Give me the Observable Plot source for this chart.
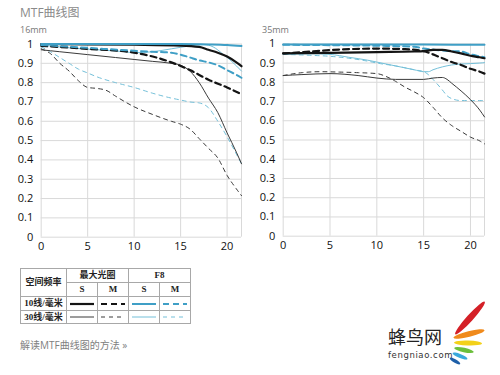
<!DOCTYPE html>
<html><head><meta charset="utf-8">
<script src="https://cdn.jsdelivr.net/npm/d3@7"></script>
<script src="https://cdn.jsdelivr.net/npm/@observablehq/plot@0.6"></script>
<style>
body{margin:0;background:#fff;}
#root{position:relative;width:500px;height:375px;overflow:hidden;font-family:"Open Sans","Noto Sans CJK SC",sans-serif;}
.abs{position:absolute;}
#title{left:20px;top:6px;font-size:12px;line-height:14px;color:#8a8a8a;font-family:"Open Sans","Noto Sans CJK SC",sans-serif;}
.lens{top:25px;font-size:9px;line-height:10px;color:#777;}
#legend{left:20px;top:268px;border-collapse:collapse;font-family:"Liberation Serif","Noto Sans CJK SC",serif;font-weight:bold;font-size:9px;color:#222;}
#legend td{border:1px solid #a8a8a8;text-align:center;padding:0;line-height:11px;}
#link{left:20px;top:339px;font-size:10px;line-height:12px;color:#808080;}
</style></head>
<body><div id="root">
<div id="title" class="abs">MTF曲线图</div>
<div class="abs lens" style="left:20px">16mm</div>
<div class="abs lens" style="left:262px">35mm</div>
<div id="c16" class="abs" style="left:0;top:38px"></div>
<div id="c35" class="abs" style="left:250px;top:38px"></div>
<table id="legend" class="abs"></table>
<div id="link" class="abs">解读MTF曲线图的方法 »</div>
<svg class="abs" style="left:380px;top:290px" width="120" height="85">
  <text x="8" y="54" font-size="18" font-family="Noto Sans CJK SC" fill="#222">蜂鸟网</text>
  <text x="8" y="68" font-size="8.5" font-family="DejaVu Sans" fill="#333" letter-spacing="0.6">fengniao.com</text>
  <ellipse cx="90" cy="28" rx="22" ry="3.2" fill="#d42027" transform="rotate(-48 90 28)"/>
  <ellipse cx="89" cy="44" rx="16" ry="2.8" fill="#f08a1c" transform="rotate(-14 89 44)"/>
  <ellipse cx="88" cy="53" rx="14" ry="2.5" fill="#f3d11a" transform="rotate(2 88 53)"/>
  <ellipse cx="84" cy="60" rx="10" ry="2.2" fill="#6cbf3c" transform="rotate(12 84 60)"/>
  <ellipse cx="80" cy="66" rx="8" ry="2" fill="#39a9dc" transform="rotate(22 80 66)"/>
  <ellipse cx="75" cy="71" rx="6" ry="1.8" fill="#1e5fa8" transform="rotate(30 75 71)"/>
</svg>
</div>
<script>
// ---------- data (position on the frame in mm, MTF value) ----------
const xTicks = [0, 5, 10, 15, 20];
const yTicks = [0, 0.1, 0.2, 0.3, 0.4, 0.5, 0.6, 0.7, 0.8, 0.9, 1];

// 16mm
const l16_max10S = [[0,1.0],[5,0.998],[10,0.996],[15,0.992],[17,0.985],[18,0.97],[19,0.955],[20,0.935],[21,0.905],[21.55,0.885]];
const l16_max10M = [[0,0.99],[5,0.975],[10,0.955],[12,0.935],[14,0.905],[16,0.865],[18,0.815],[20,0.775],[21.55,0.74]];
const l16_max30S = [[0,0.97],[2,0.96],[5,0.945],[8,0.93],[10,0.92],[12,0.91],[14,0.9],[15,0.89],[16,0.86],[17,0.8],[18,0.72],[19,0.645],[20,0.54],[21,0.44],[21.55,0.38]];
const l16_max30M = [[0,0.975],[1,0.95],[2,0.9],[3,0.86],[4,0.81],[5,0.775],[6,0.77],[7,0.76],[8,0.73],[10,0.675],[12,0.635],[14,0.6],[15,0.585],[16,0.56],[17,0.51],[18,0.46],[19,0.41],[20,0.32],[21,0.25],[21.55,0.215]];
const l16_f810S = [[0,1.0],[10,1.0],[15,1.0],[18,0.998],[20,0.995],[21.55,0.99]];
const l16_f810M = [[0,0.995],[5,0.98],[10,0.965],[12,0.96],[14,0.955],[15,0.945],[16,0.93],[17,0.915],[18,0.905],[19,0.89],[20,0.865],[21,0.84],[21.55,0.825]];
const l16_f830S = [[0,0.995],[3,0.98],[6,0.97],[9,0.96],[10,0.955],[12,0.96],[14,0.975],[16,0.99],[17.5,0.997],[18.5,0.985],[19.5,0.95],[20.5,0.91],[21.55,0.86]];
const l16_f830M = [[0,0.985],[1,0.96],[2,0.93],[3,0.9],[4,0.87],[5,0.85],[6,0.83],[8,0.8],[10,0.775],[12,0.745],[14,0.72],[15,0.71],[16,0.7],[17,0.695],[18,0.67],[19,0.6],[20,0.52],[21,0.43],[21.55,0.38]];

// 35mm
const l35_max10S = [[0,0.95],[5,0.953],[10,0.957],[14,0.96],[15,0.962],[16,0.968],[17,0.968],[18,0.96],[19,0.95],[20,0.938],[21,0.93],[21.5,0.925]];
const l35_max10M = [[0,0.95],[3,0.96],[6,0.97],[10,0.975],[13,0.972],[15,0.962],[16,0.945],[17,0.925],[18,0.905],[19,0.89],[20,0.87],[21,0.855],[21.5,0.845]];
const l35_max30S = [[0,0.835],[2,0.84],[5,0.845],[8,0.835],[10,0.822],[12,0.815],[15,0.815],[16,0.822],[17,0.825],[17.5,0.815],[18,0.795],[19,0.755],[20,0.71],[21,0.655],[21.5,0.62]];
const l35_max30M = [[0,0.835],[2,0.85],[4,0.855],[6,0.853],[8,0.85],[10,0.845],[11,0.83],[12,0.805],[13,0.775],[14,0.75],[15,0.72],[16,0.67],[17,0.615],[18,0.575],[19,0.545],[20,0.515],[21,0.495],[21.5,0.48]];
const l35_f810S = [[0,0.997],[10,0.997],[15,0.996],[20,0.995],[21.5,0.995]];
const l35_f810M = [[0,0.995],[5,0.993],[10,0.99],[14,0.985],[15,0.975],[16,0.97],[17,0.965],[18,0.962],[19,0.96],[20,0.945],[21,0.935],[21.5,0.93]];
const l35_f830S = [[0,0.945],[3,0.948],[5,0.945],[7,0.93],[9,0.915],[10,0.905],[12,0.885],[14,0.865],[15,0.855],[15.5,0.855],[16,0.865],[17,0.88],[18,0.89],[19,0.895],[20,0.897],[21,0.9],[21.5,0.902]];
const l35_f830M = [[0,0.945],[3,0.94],[5,0.935],[7,0.925],[9,0.91],[10,0.9],[12,0.885],[14,0.865],[15,0.855],[15.5,0.84],[16,0.815],[17,0.76],[17.5,0.73],[18,0.715],[19,0.705],[20,0.705],[21,0.705],[21.5,0.705]];

// ---------- styles ----------
const style = {
  max10S: {stroke:"#141414", strokeWidth:2.2},
  max10M: {stroke:"#141414", strokeWidth:2.2, strokeDasharray:"6,4"},
  max30S: {stroke:"#3a3a3a", strokeWidth:1},
  max30M: {stroke:"#3a3a3a", strokeWidth:1, strokeDasharray:"4,4"},
  f810S: {stroke:"#3f9fc6", strokeWidth:2},
  f810M: {stroke:"#3f9fc6", strokeWidth:2, strokeDasharray:"6,4"},
  f830S: {stroke:"#74c0d9", strokeWidth:1},
  f830M: {stroke:"#74c0d9", strokeWidth:1, strokeDasharray:"4,4"}
};
const order = ["max30M","f830M","max30S","f830S","max10M","f810M","max10S","f810S"];

function chart(seriesMap, opt) {
  const marks = [
    Plot.ruleY(yTicks, {stroke:"#d9d9d9", strokeWidth:1}),
    Plot.ruleX(xTicks, {stroke:"#d9d9d9", strokeWidth:1}),
    Plot.ruleX([opt.xmax], {stroke:"#d9d9d9", strokeWidth:1})
  ];
  for (const k of order) {
    marks.push(Plot.line(seriesMap[k], {x: d => d[0], y: d => d[1], curve:"monotone-x", ...style[k]}));
  }
  return Plot.plot({
    width: 250, height: 220,
    marginLeft: opt.ml, marginRight: opt.mr, marginTop: opt.mt, marginBottom: opt.mb,
    style: {fontSize:"11px", fontFamily:"'Open Sans', sans-serif", color:"#111", background:"transparent", overflow:"visible"},
    x: {domain:[0, opt.xmax], ticks: xTicks, tickSize:0, tickPadding:5, label:null},
    y: {domain:[0, 1], ticks: yTicks, tickSize:0, tickPadding:8, label:null, tickFormat: d => String(+d.toFixed(1))},
    marks
  });
}

document.getElementById("c16").append(chart({
  max10S:l16_max10S, max10M:l16_max10M, max30S:l16_max30S, max30M:l16_max30M,
  f810S:l16_f810S, f810M:l16_f810M, f830S:l16_f830S, f830M:l16_f830M
}, {ml:40.7, mr:9, mt:5.5, mb:21.3, xmax:21.55}));

document.getElementById("c35").append(chart({
  max10S:l35_max10S, max10M:l35_max10M, max30S:l35_max30S, max30M:l35_max30M,
  f810S:l35_f810S, f810M:l35_f810M, f830S:l35_f830S, f830M:l35_f830M
}, {ml:32.7, mr:16, mt:5.3, mb:22.3, xmax:21.5}));

// ---------- legend table ----------
const legendGroups = ["最大光圈", "F8"];
const legendCols = ["S", "M"];
const legendRows = ["10线/毫米", "30线/毫米"];
const legendHead = "空间频率";
function sample(k) {
  const s = style[k];
  return `<svg width="24" height="6" style="display:block;margin:auto"><line x1="0" x2="24" y1="3" y2="3" stroke="${s.stroke}" stroke-width="${s.strokeWidth}" stroke-dasharray="${s.strokeDasharray||""}"/></svg>`;
}
const t = document.getElementById("legend");
t.innerHTML =
  `<tr style="height:14px"><td rowspan="2" style="width:45px">${legendHead}</td><td colspan="2">${legendGroups[0]}</td><td colspan="2">${legendGroups[1]}</td></tr>` +
  `<tr style="height:14px">${legendCols.map(c=>`<td style="width:30px">${c}</td>`).join("")}${legendCols.map(c=>`<td style="width:30px">${c}</td>`).join("")}</tr>` +
  `<tr style="height:14px"><td>${legendRows[0]}</td><td>${sample("max10S")}</td><td>${sample("max10M")}</td><td>${sample("f810S")}</td><td>${sample("f810M")}</td></tr>` +
  `<tr style="height:13px"><td>${legendRows[1]}</td><td>${sample("max30S")}</td><td>${sample("max30M")}</td><td>${sample("f830S")}</td><td>${sample("f830M")}</td></tr>`;
</script>
</body></html>
